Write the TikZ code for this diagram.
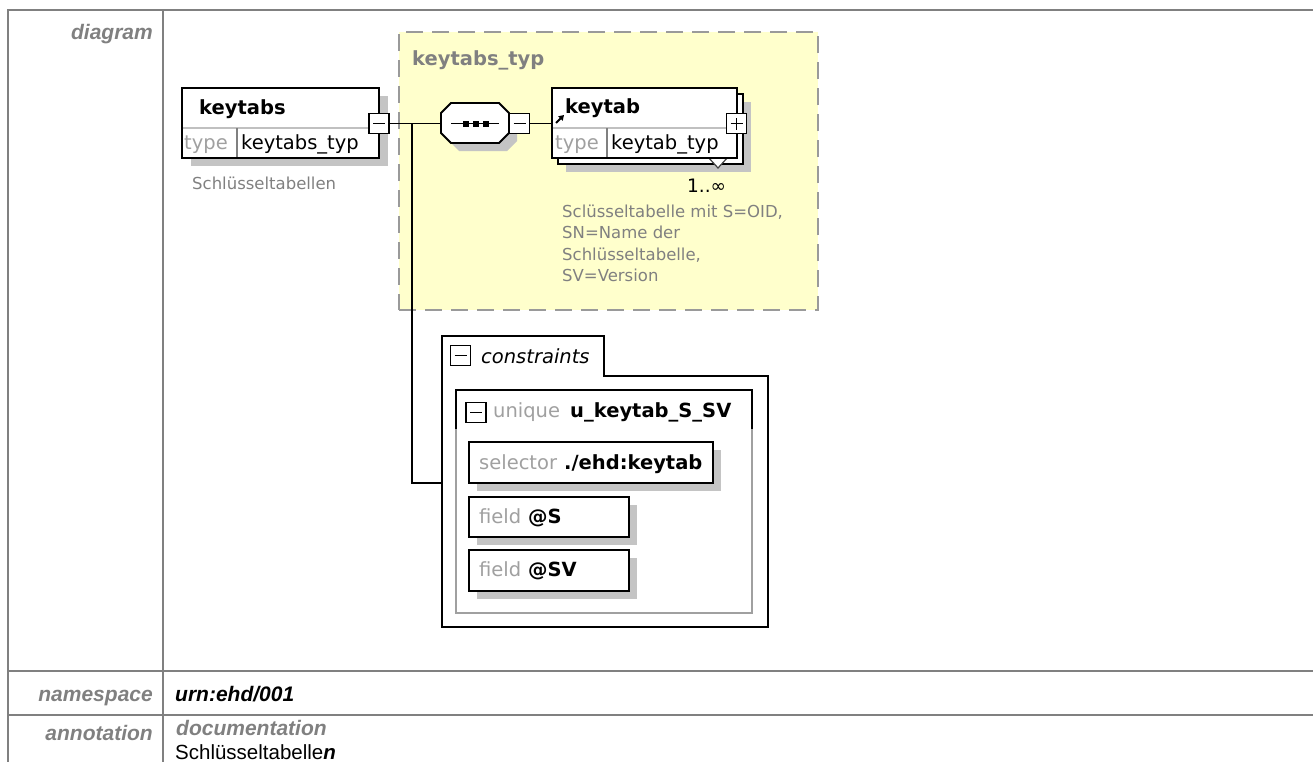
\documentclass[tikz,border=0pt]{standalone}
\usepackage{fontspec}
\usetikzlibrary{arrows.meta}
\newfontfamily\dvs{DejaVu Sans}[ItalicFont={DejaVu Sans Oblique},BoldFont={DejaVu Sans Bold}]
\newfontfamily\lsans{Liberation Sans}
\definecolor{tblgray}{HTML}{808080}
\definecolor{lgray}{HTML}{A0A0A0}
\definecolor{divgray}{HTML}{C0C0C0}
\definecolor{shadowgray}{HTML}{C4C4C4}
\definecolor{ylw}{HTML}{FFFFCC}
\definecolor{dashgray}{HTML}{9A9A9A}
\tikzset{
  tbl/.style={draw=tblgray,line width=2pt},
  lbl/.style={inner sep=0pt,font=\lsans\fontsize{21pt}{24pt}\selectfont\bfseries\itshape,text=tblgray},
  plainA/.style={inner sep=0pt,font=\lsans\fontsize{20.5pt}{24pt}\selectfont},
  bx/.style={draw=black,line width=1.8pt},
  ebox/.style={bx,fill=white,rectangle,inner sep=0pt},
  sq/.style={ebox,minimum width=20pt,minimum height=20pt},
  conn/.style={draw=black,line width=1.8pt},
  divh/.style={draw=divgray,line width=1.5pt},
  divv/.style={draw=tblgray,line width=1.5pt},
  txt/.style={inner sep=0pt,anchor=base west,font=\dvs\fontsize{19.5pt}{23pt}\selectfont},
  btxt/.style={txt,font=\dvs\fontsize{19.5pt}{23pt}\selectfont\bfseries},
  gtxt/.style={txt,text=lgray},
  ann/.style={inner sep=0pt,anchor=base west,font=\dvs\fontsize{16.5pt}{21pt}\selectfont,text=tblgray},
  ybox/.style={rectangle,fill=ylw,draw=dashgray,line width=2pt,dash pattern=on 17pt off 9pt,inner sep=0pt}
}
\begin{document}
\begin{tikzpicture}[x=1pt,y=-1pt]
\useasboundingbox (0,0) rectangle (1313,761);
% table frame
\draw[tbl] (1314,10) -- (8,10) -- (8,762);
\draw[tbl] (163,10) -- (163,762);
\draw[tbl] (8,671) -- (1314,671);
\draw[tbl] (8,715) -- (1314,715);
\node[lbl,anchor=base east] (labDiagram) at (153,39) {diagram};
\node[lbl,anchor=base east] (labNs) at (153,701) {namespace};
\node[lbl,anchor=base east] (labAnn) at (153,740) {annotation};
\node[lbl,text=black,anchor=base west] (valNs) at (175,701) {urn:ehd/001};
\node[lbl,anchor=base west] (valDoc) at (176,735) {documentation};
\node[plainA,anchor=base west] (valDocTxt) at (175,759) {Schlüsseltabelle\textbf{\textit{n}}};

% yellow complex type box
\node[ybox,minimum width=419pt,minimum height=278pt] (typbox) at (608.5,171) {};
\node[btxt,text=tblgray] (typLabel) at (412,65.5) {keytabs\_typ};

% connectors
\node[sq] (ktMinus) at (379,123.5) {};
\node[inner sep=0pt,minimum width=68pt,minimum height=40pt] (seq) at (475,123.5) {};
\node[inner sep=0pt,minimum width=185pt,minimum height=70pt] (keytabPos) at (644.5,123.5) {};
\coordinate (br) at (412,123.5);
\coordinate (consIn) at (442,483);
\draw[conn] (ktMinus.east) -- (seq.west);
\draw[conn] (519.5,123.5) -- (keytabPos.west);
\draw[conn] (br) |- (consIn);

% keytabs element
\fill[shadowgray] (191,96) rectangle (388,166);
\node[ebox,minimum width=197pt,minimum height=70pt] (keytabs) at (280.5,123) {};
\draw[divh] (183,128) -- (378,128);
\draw[divv] (237,128) -- (237,157);
\node[btxt] (keytabsName) at (199,114) {keytabs};
\node[gtxt] (keytabsTypeL) at (184,149) {type};
\node[txt] (keytabsType) at (241,149) {keytabs\_typ};
\node[sq] (ktMinus2) at (379,123.5) {};
\draw[line width=1.8pt] ([xshift=-6pt]ktMinus2.center) -- ([xshift=6pt]ktMinus2.center);
\node[ann] (keytabsAnn) at (192,189) {Schlüsseltabellen};

% sequence compositor
\fill[shadowgray] (459,111) -- (507,111) -- (517,121) -- (517,141) -- (507,151) -- (459,151) -- (449,141) -- (449,121) -- cycle;
\draw[bx,fill=white] (451,103) -- (499,103) -- (509,113) -- (509,133) -- (499,143) -- (451,143) -- (441,133) -- (441,113) -- cycle;
\draw[line width=1.6pt] (451,123.5) -- (499,123.5);
\fill (463,120.5) rectangle (469,126.5);
\fill (473,120.5) rectangle (479,126.5);
\fill (483,120.5) rectangle (489,126.5);
\node[sq] (seqMinus) at (519.5,123.5) {};
\draw[line width=1.8pt] ([xshift=-6pt]seqMinus.center) -- ([xshift=6pt]seqMinus.center);

% keytab element (multiple)
\fill[shadowgray] (566,102) rectangle (751,172);
\node[ebox,minimum width=185pt,minimum height=70pt] (keytabBack) at (650.5,129) {};
\draw[draw=black!75,fill=white,line width=1.2pt] (708,157) -- (728,157) -- (718,168) -- cycle;
\node[ebox,minimum width=185pt,minimum height=70pt] (keytab) at (644.5,123) {};
\draw[divh] (553,128) -- (736,128);
\draw[divv] (607,128) -- (607,157);
\draw[line width=2pt,-{Triangle[length=5pt,width=6pt]}] (556,123) -- (564,115);
\node[btxt] (keytabName) at (565,113) {keytab};
\node[gtxt] (keytabTypeL) at (555,149) {type};
\node[txt] (keytabType) at (611,149) {keytab\_typ};
\node[sq] (ktPlus) at (736.5,123.5) {};
\draw[line width=1.8pt] ([xshift=-6pt]ktPlus.center) -- ([xshift=6pt]ktPlus.center);
\draw[line width=1.8pt] ([yshift=-6pt]ktPlus.center) -- ([yshift=6pt]ktPlus.center);
\node[txt,font=\dvs\fontsize{18.5pt}{22pt}\selectfont] (occ) at (687,192) {1..∞};
\node[ann] (ktAnn1) at (562,217) {Sclüsseltabelle mit S=OID,};
\node[ann] (ktAnn2) at (562,238.5) {SN=Name der};
\node[ann] (ktAnn3) at (562,260) {Schlüsseltabelle,};
\node[ann] (ktAnn4) at (562,281.5) {SV=Version};

% constraints
\draw[bx,fill=white] (442,336) -- (604,336) -- (604,376) -- (768,376) -- (768,627) -- (442,627) -- cycle;
\node[sq] (consMinus) at (460.5,355.5) {};
\draw[line width=1.8pt] ([xshift=-6pt]consMinus.center) -- ([xshift=6pt]consMinus.center);
\node[txt,font=\dvs\fontsize{19.5pt}{23pt}\selectfont\itshape] (consLabel) at (481,363) {constraints};

% unique
\draw[draw=lgray,line width=1.5pt] (456,429) -- (456,613) -- (752,613) -- (752,429);
\draw[bx] (456,429) -- (456,390) -- (752,390) -- (752,429);
\node[sq] (uniqMinus) at (476,412.5) {};
\draw[line width=1.8pt] ([xshift=-6pt]uniqMinus.center) -- ([xshift=6pt]uniqMinus.center);
\node[gtxt] (uniqLabel) at (493,417) {unique};
\node[btxt] (uniqName) at (570,417) {u\_keytab\_S\_SV};

% selector and fields
\fill[shadowgray] (477,450) rectangle (721,491);
\node[ebox,minimum width=244pt,minimum height=41pt] (sel) at (591,462.5) {};
\node[gtxt] (selLabel) at (479,469) {selector};
\node[btxt] (selVal) at (564,469) {./ehd:keytab};

\fill[shadowgray] (477,505) rectangle (637,545);
\node[ebox,minimum width=160pt,minimum height=40pt] (fS) at (549,517) {};
\node[gtxt] (fSLabel) at (479,523) {field};
\node[btxt] (fSVal) at (528,523) {@S};

\fill[shadowgray] (477,558) rectangle (637,599);
\node[ebox,minimum width=160pt,minimum height=41pt] (fSV) at (549,570.5) {};
\node[gtxt] (fSVLabel) at (479,576) {field};
\node[btxt] (fSVVal) at (528,576) {@SV};
\end{tikzpicture}
\end{document}
